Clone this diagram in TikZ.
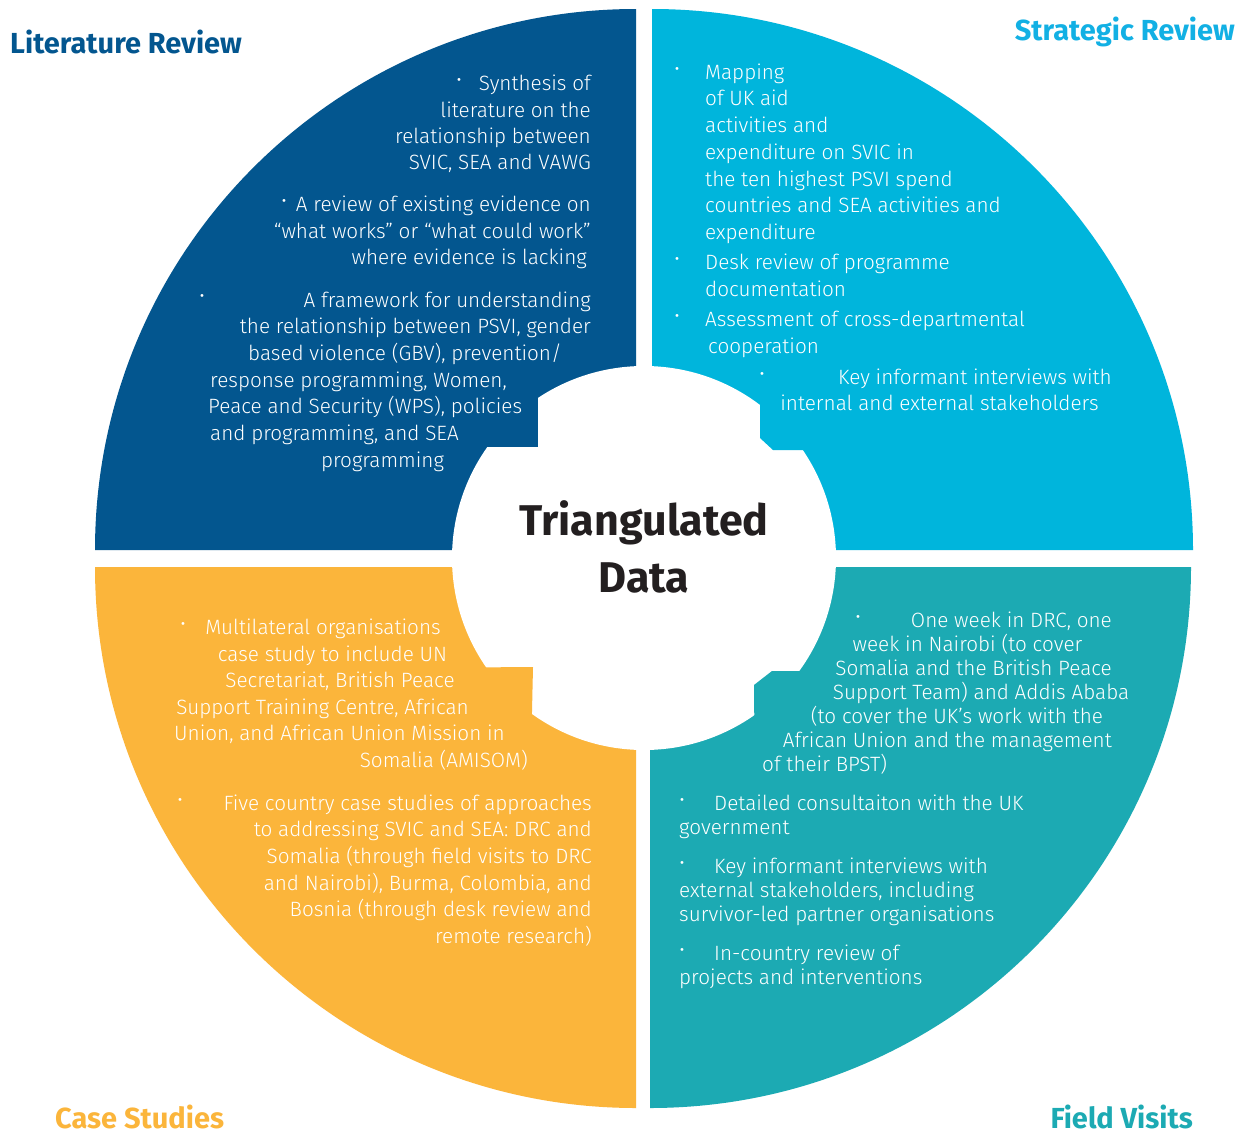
\documentclass[tikz,border=0pt]{standalone}
\usepackage{fontspec}
\newfontfamily\bodyfont{Fira Sans Light}
\newfontfamily\headfont{Fira Sans}
\definecolor{litblue}{HTML}{03568F}
\definecolor{stratcyan}{HTML}{00B5DC}
\definecolor{caseorange}{HTML}{FBB53B}
\definecolor{fieldteal}{HTML}{1CAAB3}
\definecolor{titlecyan}{HTML}{12B0E4}
\definecolor{centerdark}{HTML}{231F20}
\tikzset{
  body/.style={text=white, font=\bodyfont\fontsize{20.7}{24}\selectfont, inner sep=0pt},
  rt/.style={body, anchor=base east},
  lt/.style={body, anchor=base west},
  ct/.style={body, anchor=base},
  bul/.style={text=white, font=\bodyfont\fontsize{19}{19}\selectfont, inner sep=0pt, anchor=center},
  headtext/.style={font=\headfont\bfseries\fontsize{29}{32}\selectfont, inner sep=0pt},
  centretext/.style={font=\headfont\bfseries\fontsize{43}{48}\selectfont, text=centerdark, inner sep=0pt, anchor=base}
}
\begin{document}
\begin{tikzpicture}[x=1pt,y=-1pt]
\fill[white] (0,0) rectangle (1245,1135);
\useasboundingbox (0,0) rectangle (1245,1135);
% quarter discs
\fill[litblue] (636,550) -- (95,550) arc[start angle=180, end angle=270, radius=541] -- cycle;
\fill[stratcyan] (652,550) -- (1193,550) arc[start angle=0, end angle=-90, radius=541] -- cycle;
\fill[caseorange] (636,567) -- (95,567) arc[start angle=180, end angle=90, radius=541] -- cycle;
\fill[fieldteal] (650,567) -- (1191,567) arc[start angle=0, end angle=90, radius=541] -- cycle;
% centre
\fill[white] (644,558) circle[radius=192];
% text box notches
\fill[litblue] (430,300) rectangle (538,447);
\fill[stratcyan] (760,300) -- (900,300) -- (900,450) -- (773,450) -- (760,438) -- cycle;
\fill[caseorange] (400,668) -- (533,667) -- (530,800) -- (400,800) -- cycle;
\fill[fieldteal] (900,671) -- (772,671) -- (754,685) -- (755,800) -- (900,800) -- cycle;

% titles
\node[headtext, text=litblue, anchor=base west] (lit) at (10,53) {Literature Review};
\node[headtext, text=titlecyan, anchor=base east] (strat) at (1235,40) {Strategic Review};
\node[headtext, text=caseorange, anchor=base west] (case) at (55,1128) {Case Studies};
\node[headtext, text=fieldteal, anchor=base east] (field) at (1193,1128) {Field Visits};
\node[centretext] (tri) at (644,535) {Triangulated};
\node[centretext] (data) at (644,592) {Data};

% Literature review
\node[bul] (tlb1) at (459,83) {•};
\node[rt] (tl1) at (591,90) {Synthesis of};
\node[rt] (tl2) at (591,117) {literature on the};
\node[rt] (tl3) at (591,143) {relationship between};
\node[rt] (tl4) at (591,169) {SVIC, SEA and VAWG};
\node[bul] (tlb2) at (284,204) {•};
\node[rt] (tl5) at (591,211) {A review of existing evidence on};
\node[rt] (tl6) at (591,238) {“what works” or “what could work”};
\node[rt] (tl7) at (587,264) {where evidence is lacking};
\node[bul] (tlb3) at (202,299) {•};
\node[rt] (tl8) at (591,307) {A framework for understanding};
\node[rt] (tl9) at (591,333) {the relationship between PSVI, gender};
\node[ct] (tl10) at (405,360) {based violence (GBV), prevention/};
\node[lt] (tl11) at (210,387) {response programming, Women,};
\node[lt] (tl12) at (208,413) {Peace and Security (WPS), policies};
\node[lt] (tl13) at (210,440) {and programming, and SEA};
\node[ct] (tl14) at (382.5,467) {programming};

% Strategic review
\node[bul] (trb1) at (677,72) {•};
\node[lt] (tr1) at (705,79) {Mapping};
\node[lt] (tr2) at (705,105) {of UK aid};
\node[lt] (tr3) at (705,132) {activities and};
\node[lt] (tr4) at (705,159) {expenditure on SVIC in};
\node[lt] (tr5) at (705,186) {the ten highest PSVI spend};
\node[lt] (tr6) at (705,212) {countries and SEA activities and};
\node[lt] (tr7) at (705,239) {expenditure};
\node[bul] (trb2) at (677,262) {•};
\node[lt] (tr8) at (705,269) {Desk review of programme};
\node[lt] (tr9) at (705,296) {documentation};
\node[bul] (trb3) at (677,319) {•};
\node[lt] (tr10) at (705,326) {Assessment of cross-departmental};
\node[lt] (tr11) at (708,353) {cooperation};
\node[bul] (trb4) at (762,377) {•};
\node[rt] (tr12) at (1112,384) {Key informant interviews with};
\node[ct] (tr13) at (939.5,410) {internal and external stakeholders};

% Case studies
\node[bul] (blb1) at (183,627) {•};
\node[ct] (bl1) at (323,634) {Multilateral organisations};
\node[ct] (bl2) at (332.5,661) {case study to include UN};
\node[ct] (bl3) at (340,687) {Secretariat, British Peace};
\node[ct] (bl4) at (322.5,714) {Support Training Centre, African};
\node[ct] (bl5) at (339.5,740) {Union, and African Union Mission in};
\node[rt] (bl6) at (528,767) {Somalia (AMISOM)};
\node[bul] (blb2) at (180,803) {•};
\node[rt] (bl7) at (592,810) {Five country case studies of approaches};
\node[rt] (bl8) at (592,836) {to addressing SVIC and SEA: DRC and};
\node[rt] (bl9) at (592,863) {Somalia (through field visits to DRC};
\node[rt] (bl10) at (592,890) {and Nairobi), Burma, Colombia, and};
\node[rt] (bl11) at (592,916) {Bosnia (through desk review and};
\node[rt] (bl12) at (592,943) {remote research)};

% Field visits
\node[bul] (brb1) at (858,620) {•};
\node[rt] (br1) at (1112,627) {One week in DRC, one};
\node[ct] (br2) at (967.5,651) {week in Nairobi (to cover};
\node[rt] (br3) at (1112,675) {Somalia and the British Peace};
\node[ct] (br4) at (981,699) {Support Team) and Addis Ababa};
\node[ct] (br5) at (957,723) {(to cover the UK’s work with the};
\node[rt] (br6) at (1112,747) {African Union and the management};
\node[lt] (br7) at (762,771) {of their BPST)};
\node[bul] (brb2) at (682,803) {•};
\node[lt] (br8) at (714,810) {Detailed consultaiton with the UK};
\node[lt] (br9) at (679,834) {government};
\node[bul] (brb3) at (682,865) {•};
\node[lt] (br10) at (714,873) {Key informant interviews with};
\node[lt] (br11) at (679,897) {external stakeholders, including};
\node[lt] (br12) at (679,921) {survivor-led partner organisations};
\node[bul] (brb4) at (682,952) {•};
\node[lt] (br13) at (714,960) {In-country review of};
\node[lt] (br14) at (679,984) {projects and interventions};
\end{tikzpicture}
\end{document}
